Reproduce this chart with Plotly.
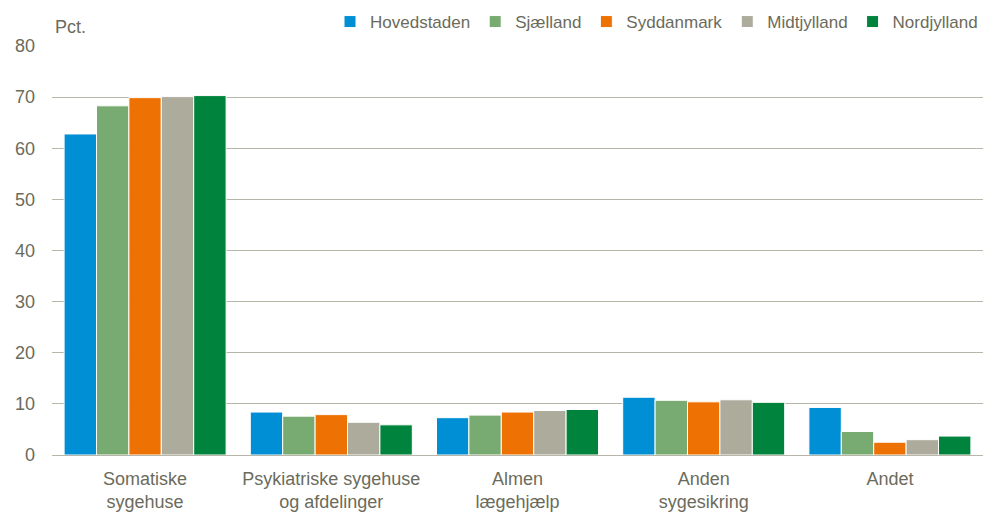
import plotly.graph_objects as go

categories = ["Somatiske<br>sygehuse", "Psykiatriske sygehuse<br>og afdelinger", "Almen<br>lægehjælp", "Anden<br>sygesikring", "Andet"]
regions = ["Hovedstaden", "Sjælland", "Syddanmark", "Midtjylland", "Nordjylland"]
hovedstaden = [62.8, 8.4, 7.3, 11.3, 9.3]
sjaelland = [68.3, 7.6, 7.8, 10.7, 4.6]
syddanmark = [69.9, 7.9, 8.4, 10.4, 2.5]
midtjylland = [70.1, 6.4, 8.7, 10.8, 3.0]
nordjylland = [70.3, 5.9, 8.9, 10.3, 3.7]
series = [hovedstaden, sjaelland, syddanmark, midtjylland, nordjylland]
colors = ["#008FD5", "#78AB72", "#EE7203", "#ADAB9C", "#00843D"]
y_ticks = [0, 10, 20, 30, 40, 50, 60, 70, 80]

text_color = "#6B6B5C"
fig = go.Figure()
for name, vals, c in zip(regions, series, colors):
    fig.add_trace(go.Bar(x=categories, y=vals, name=name, marker_color=c,
                         marker_line=dict(color="white", width=1)))

fig.update_layout(
    width=983, height=515,
    margin=dict(l=52, r=0, t=46, b=60),
    paper_bgcolor="white", plot_bgcolor="white",
    barmode="group", bargap=0.13, bargroupgap=0,
    font=dict(family="Liberation Sans, Arial, sans-serif", size=18, color=text_color),
    legend=dict(orientation="h", xref="container", x=1.0, xanchor="right",
                yref="container", y=1 - 22 / 515, yanchor="middle",
                font=dict(size=17, color=text_color), itemwidth=30, tracegroupgap=0,
                bgcolor="rgba(0,0,0,0)"),
    showlegend=True,
)
fig.update_yaxes(range=[0, 80], tickvals=y_ticks, showgrid=True, gridcolor="#B8B6A8",
                 gridwidth=1, zeroline=False, showline=False, ticks="", ticklabelstandoff=16,
                 automargin=False, tickfont=dict(size=18, color=text_color))
fig.update_xaxes(showline=True, linecolor="#B8B6A8", linewidth=1, ticks="", automargin=False,
                 tickfont=dict(size=18, color=text_color), ticklabelstandoff=7)
fig.add_annotation(text="Pct.", xref="paper", yref="paper", x=0, xshift=1, y=(455 - 27) / 409,
                   xanchor="left", yanchor="middle", showarrow=False,
                   font=dict(size=18, color=text_color))
fig.write_html("out.html", config={"displayModeBar": False},
               post_script="document.body.style.margin='0';")
